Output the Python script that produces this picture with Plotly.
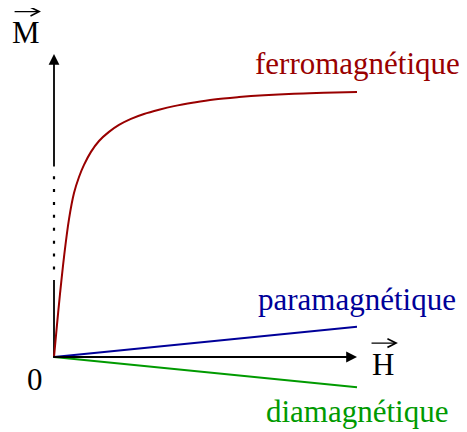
import plotly.graph_objects as go

# ---- data (units: H and M normalised to axis length 1) ----
H_ferro = [0, 0.0099, 0.0198, 0.033, 0.0495, 0.066, 0.0825, 0.099, 0.122, 0.1485, 0.1815,
           0.2145, 0.254, 0.297, 0.3465, 0.396, 0.462, 0.528, 0.6106, 0.693, 0.792, 0.891, 1.0]
M_ferro = [0, 0.107, 0.208, 0.330, 0.455, 0.541, 0.594, 0.634, 0.677, 0.713, 0.743,
           0.766, 0.786, 0.802, 0.816, 0.828, 0.840, 0.850, 0.858, 0.864, 0.869, 0.872, 0.875]
H_para = [0, 1.0]
M_para = [0, 0.10]
H_dia = [0, 1.0]
M_dia = [0, -0.10]

labels = ["ferromagnétique", "paramagnétique", "diamagnétique"]
label_pos = [(1.0, 0.969), (1.0, 0.190), (1.0, -0.179)]
colors = ["#990000", "#000099", "#009a00"]

FONT = "Liberation Serif"
FS = 31
AXW = 1.8

# page body has an 8px margin: figure is 459x424, origin at figure pixel (46, 349)
W, HGT = 459, 424
OX, OY, UNIT = 46, 349, 303

fig = go.Figure()

# y axis: lower solid part, dotted middle part
fig.add_trace(go.Scatter(x=[0, 0], y=[0, 0.254], mode="lines",
                         line=dict(color="black", width=AXW), hoverinfo="skip"))
fig.add_trace(go.Scatter(x=[0, 0], y=[0.289, 0.600], mode="lines",
                         line=dict(color="black", width=2.2, dash="3px,9.9px"), hoverinfo="skip"))

# curves
fig.add_trace(go.Scatter(x=H_ferro, y=M_ferro, mode="lines",
                         line=dict(color=colors[0], width=2, shape="spline", smoothing=1.0),
                         hoverinfo="skip"))
fig.add_trace(go.Scatter(x=H_para, y=M_para, mode="lines",
                         line=dict(color=colors[1], width=2), hoverinfo="skip"))
fig.add_trace(go.Scatter(x=H_dia, y=M_dia, mode="lines",
                         line=dict(color=colors[2], width=2), hoverinfo="skip"))

ann = []
# axis arrows
ann.append(dict(x=1.0, y=0, ax=-0.008, ay=0, xref="x", yref="y", axref="x", ayref="y",
                text="", showarrow=True, arrowhead=2, arrowsize=1.2, arrowwidth=AXW,
                arrowcolor="black"))
ann.append(dict(x=0, y=1.0, ax=0, ay=0.624, xref="x", yref="y", axref="x", ayref="y",
                text="", showarrow=True, arrowhead=2, arrowsize=1.2, arrowwidth=AXW,
                arrowcolor="black"))
# vector arrows over H and M
ann.append(dict(x=1.135, y=0.046, ax=1.043, ay=0.046, xref="x", yref="y", axref="x", ayref="y",
                text="", showarrow=True, arrowhead=5, arrowsize=1.3, arrowwidth=1.3,
                arrowcolor="black"))
ann.append(dict(x=-0.043, y=1.140, ax=-0.135, ay=1.140, xref="x", yref="y", axref="x", ayref="y",
                text="", showarrow=True, arrowhead=5, arrowsize=1.3, arrowwidth=1.3,
                arrowcolor="black"))
# axis letters
ann.append(dict(x=1.087, y=-0.025, xref="x", yref="y", text="H", showarrow=False,
                xanchor="center", yanchor="middle", font=dict(family=FONT, size=FS, color="black")))
ann.append(dict(x=-0.091, y=1.070, xref="x", yref="y", text="M", showarrow=False,
                xanchor="center", yanchor="middle", font=dict(family=FONT, size=FS, color="black")))
ann.append(dict(x=-0.064, y=-0.074, xref="x", yref="y", text="0", showarrow=False,
                xanchor="center", yanchor="middle", font=dict(family=FONT, size=FS, color="black")))
# curve labels
for lab, (lx, ly), c in zip(labels, label_pos, colors):
    ann.append(dict(x=lx, y=ly, xref="x", yref="y", text=lab, showarrow=False,
                    xanchor="center", yanchor="middle", font=dict(family=FONT, size=FS, color=c)))

fig.update_layout(
    width=W, height=HGT,
    margin=dict(l=0, r=0, t=0, b=0),
    paper_bgcolor="white", plot_bgcolor="white",
    showlegend=False,
    xaxis=dict(range=[-OX / UNIT, (W - OX) / UNIT], visible=False, fixedrange=True),
    yaxis=dict(range=[-(HGT - OY) / UNIT, OY / UNIT], visible=False, fixedrange=True),
    annotations=ann,
)

fig.write_html("out.html", config={"displayModeBar": False})
